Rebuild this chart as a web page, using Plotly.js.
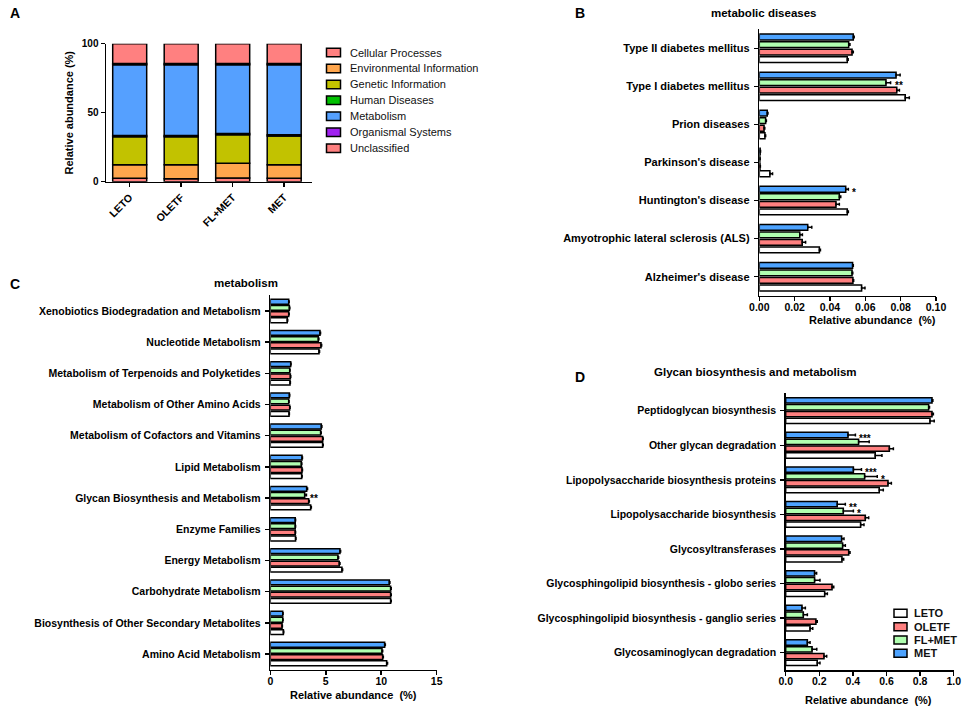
<!DOCTYPE html>
<html>
<head>
<meta charset="utf-8">
<script src="https://cdn.plot.ly/plotly-3.0.1.min.js"></script>
<style>html,body{margin:0;padding:0;background:#fff;}#chart{width:964px;height:708px;}</style>
</head>
<body>
<div id="chart"></div>
<script>
// ---------------- DATA ----------------
const groups = ['LETO', 'OLETF', 'FL+MET', 'MET'];

// Panel A: KEGG level-1 relative abundance (%)
const aCategories = ['LETO', 'OLETF', 'FL+MET', 'MET'];
const aLevels = ['Cellular Processes', 'Environmental Information', 'Genetic Information', 'Human Diseases', 'Metabolism', 'Organismal Systems', 'Unclassified'];
const cellularProcesses = [2.5, 2.2, 2.6, 2.5];
const environmentalInformation = [9.8, 10.1, 10.7, 9.8];
const geneticInformation = [20.3, 20.3, 20.7, 20.8];
const humanDiseases = [0.9, 0.9, 0.9, 0.9];
const metabolismA = [51.3, 51.3, 49.9, 50.8];
const organismalSystems = [0.8, 0.8, 0.8, 0.8];
const unclassified = [14.4, 14.4, 14.4, 14.4];

// Panel B: metabolic diseases
const bCategories = ["Type II diabetes mellitus", "Type I diabetes mellitus", "Prion diseases", "Parkinson's disease", "Huntington's disease", "Amyotrophic lateral sclerosis (ALS)", "Alzheimer's disease"];
const bLETO = [0.0498, 0.0826, 0.0032, 0.0060, 0.0498, 0.0340, 0.0579];
const bOLETF = [0.0525, 0.0778, 0.0027, 0.0004, 0.0434, 0.0243, 0.0530];
const bFLMET = [0.0506, 0.0717, 0.0036, 0.0003, 0.0453, 0.0229, 0.0525];
const bMET = [0.0532, 0.0774, 0.0045, 0.0005, 0.0489, 0.0274, 0.0528];
const bLETOerr = [0.0005, 0.0023, 0.0004, 0.0015, 0.0006, 0.0006, 0.0019];
const bOLETFerr = [0.0007, 0.0015, 0.0004, 0.0002, 0.0019, 0.0019, 0.0004];
const bFLMETerr = [0.0007, 0.0026, 0.0004, 0.0002, 0.0008, 0.0015, 0.0004];
const bMETerr = [0.0005, 0.0023, 0.0004, 0.0002, 0.0015, 0.0023, 0.0004];
const bSig = [["Type I diabetes mellitus", 2, '**'], ["Huntington's disease", 3, '*']];

// Panel C: metabolism
const cCategories = ["Xenobiotics Biodegradation and Metabolism", "Nucleotide Metabolism", "Metabolism of Terpenoids and Polyketides", "Metabolism of Other Amino Acids", "Metabolism of Cofactors and Vitamins", "Lipid Metabolism", "Glycan Biosynthesis and Metabolism", "Enzyme Families", "Energy Metabolism", "Carbohydrate Metabolism", "Biosynthesis of Other Secondary Metabolites", "Amino Acid Metabolism"];
const cLETO = [1.53, 4.39, 1.78, 1.69, 4.72, 2.83, 3.64, 2.28, 6.46, 10.85, 1.18, 10.49];
const cOLETF = [1.66, 4.57, 1.81, 1.75, 4.72, 2.86, 3.46, 2.25, 6.22, 10.85, 1.06, 10.13];
const cFLMET = [1.72, 4.33, 1.75, 1.66, 4.54, 2.80, 3.10, 2.25, 6.10, 10.85, 1.12, 10.07];
const cMET = [1.66, 4.48, 1.84, 1.72, 4.60, 2.86, 3.28, 2.25, 6.28, 10.73, 1.12, 10.31];
const cLETOerr = [0.04, 0.05, 0.03, 0.03, 0.05, 0.04, 0.06, 0.03, 0.06, 0.05, 0.03, 0.08];
const cOLETFerr = [0.04, 0.06, 0.03, 0.03, 0.05, 0.04, 0.06, 0.03, 0.06, 0.05, 0.03, 0.06];
const cFLMETerr = [0.04, 0.05, 0.03, 0.03, 0.05, 0.04, 0.16, 0.03, 0.06, 0.05, 0.03, 0.06];
const cMETerr = [0.04, 0.05, 0.03, 0.03, 0.05, 0.04, 0.08, 0.03, 0.06, 0.05, 0.03, 0.06];
const cSig = [["Glycan Biosynthesis and Metabolism", 2, '**']];

// Panel D: Glycan biosynthesis and metabolism
const dCategories = ["Peptidoglycan biosynthesis", "Other glycan degradation", "Lipopolysaccharide biosynthesis proteins", "Lipopolysaccharide biosynthesis", "Glycosyltransferases", "Glycosphingolipid biosynthesis - globo series", "Glycosphingolipid biosynthesis - ganglio series", "Glycosaminoglycan degradation"];
const dLETO = [0.859, 0.533, 0.557, 0.446, 0.335, 0.232, 0.145, 0.188];
const dOLETF = [0.871, 0.617, 0.609, 0.474, 0.375, 0.276, 0.180, 0.228];
const dFLMET = [0.851, 0.434, 0.470, 0.343, 0.339, 0.172, 0.105, 0.157];
const dMET = [0.871, 0.371, 0.403, 0.307, 0.333, 0.172, 0.097, 0.129];
const dLETOerr = [0.025, 0.040, 0.024, 0.020, 0.010, 0.016, 0.016, 0.016];
const dOLETFerr = [0.008, 0.024, 0.020, 0.020, 0.008, 0.010, 0.008, 0.016];
const dFLMETerr = [0.005, 0.063, 0.075, 0.060, 0.016, 0.032, 0.024, 0.028];
const dMETerr = [0.005, 0.044, 0.048, 0.048, 0.014, 0.012, 0.020, 0.016];
const dSig = [["Other glycan degradation", 3, '***'], ["Lipopolysaccharide biosynthesis proteins", 3, '***'], ["Lipopolysaccharide biosynthesis proteins", 2, '*'], ["Lipopolysaccharide biosynthesis", 3, '**'], ["Lipopolysaccharide biosynthesis", 2, '*']];

// ---------------- STYLE ----------------
const W = 964, H = 708;
const FONT = 'Liberation Sans, Arial, sans-serif';
const aColors = ['#FF8080', '#FFA64D', '#C2C200', '#00C000', '#55A0FF', '#A020F0', '#FF8080'];
const groupColors = ['#FFFFFF', '#FF8080', '#B0FFB0', '#4DA3FF'];
const px = x => x / W;
const py = y => 1 - y / H;

const traces = [];

// Panel A stacked bars (explicit base computed from the data)
const aSeries = [cellularProcesses, environmentalInformation, geneticInformation, humanDiseases, metabolismA, organismalSystems, unclassified];
let cum = aCategories.map(() => 0);
aSeries.forEach((vals, i) => {
  traces.push({
    type: 'bar', x: aCategories, y: vals, base: cum.slice(),
    width: 0.66, offset: -0.33,
    xaxis: 'x', yaxis: 'y', name: aLevels[i], showlegend: false,
    marker: {color: aColors[i], line: {color: '#000', width: 1.5}},
    hoverinfo: 'skip'
  });
  cum = cum.map((c, k) => c + vals[k]);
});

function addGroupTraces(cats, seriesList, errList, ax) {
  seriesList.forEach((vals, g) => {
    traces.push({
      type: 'bar', orientation: 'h', y: cats, x: vals,
      xaxis: 'x' + ax, yaxis: 'y' + ax, name: groups[g], showlegend: false,
      marker: {color: groupColors[g], line: {color: '#000', width: 1.5}},
      error_x: {type: 'data', symmetric: false, array: errList[g], arrayminus: vals.map(() => 0),
                color: '#000', thickness: 1.5, width: 1.5},
      hoverinfo: 'skip'
    });
  });
}
addGroupTraces(bCategories, [bLETO, bOLETF, bFLMET, bMET], [bLETOerr, bOLETFerr, bFLMETerr, bMETerr], 2);
addGroupTraces(cCategories, [cLETO, cOLETF, cFLMET, cMET], [cLETOerr, cOLETFerr, cFLMETerr, cMETerr], 3);
addGroupTraces(dCategories, [dLETO, dOLETF, dFLMET, dMET], [dLETOerr, dOLETFerr, dFLMETerr, dMETerr], 4);

const bargap = 0.21;
const annotations = [];
const shapes = [];
function addSig(sigList, cats, seriesList, errList, ax, spacingPx) {
  const slot = spacingPx * (1 - bargap) / 4;
  sigList.forEach(([cat, g, txt]) => {
    const k = cats.indexOf(cat);
    annotations.push({
      xref: 'x' + ax, yref: 'y' + ax, x: seriesList[g][k] + errList[g][k], y: cat,
      xanchor: 'left', yanchor: 'middle', xshift: 2, yshift: (g - 1.5) * slot - 3,
      text: txt, showarrow: false, font: {family: FONT, size: 10, color: '#000', weight: 'bold'}
    });
  });
}
addSig(bSig, bCategories, [bLETO, bOLETF, bFLMET, bMET], [bLETOerr, bOLETFerr, bFLMETerr, bMETerr], 2, 38.07);
addSig(cSig, cCategories, [cLETO, cOLETF, cFLMET, cMET], [cLETOerr, cOLETFerr, cFLMETerr, cMETerr], 3, 31.18);
addSig(dSig, dCategories, [dLETO, dOLETF, dFLMET, dMET], [dLETOerr, dOLETFerr, dFLMETerr, dMETerr], 4, 34.57);

function paperText(text, x, y, size, weight, xanchor) {
  annotations.push({xref: 'paper', yref: 'paper', x: px(x), y: py(y), xanchor: xanchor || 'center', yanchor: 'middle',
    text: text, showarrow: false, font: {family: FONT, size: size, color: '#000', weight: weight || 'bold'}});
}
paperText('A', 8, 13, 14, 'bold', 'left');
paperText('B', 573, 13, 14, 'bold', 'left');
paperText('C', 8, 284, 14, 'bold', 'left');
paperText('D', 573, 377, 14, 'bold', 'left');
paperText('metabolic diseases', 763, 13, 11.5);
paperText('metabolism', 246, 283, 11.5);
paperText('Glycan biosynthesis and metabolism', 755, 372, 11.5);
paperText('Relative abundance  (%)', 872, 319.5, 11);
paperText('Relative abundance  (%)', 353, 694.5, 11);
paperText('Relative abundance  (%)', 868, 700, 11);

// Legends (compact, as in the reference)
function addLegend(labels, colors, x0, y0, dy, sw, sh, textX, size, weight) {
  labels.forEach((lab, i) => {
    const yc = y0 + i * dy;
    shapes.push({type: 'rect', xref: 'paper', yref: 'paper', x0: px(x0), x1: px(x0 + sw),
      y0: py(yc + sh / 2), y1: py(yc - sh / 2), fillcolor: colors[i], line: {color: '#000', width: 1.5}});
    annotations.push({xref: 'paper', yref: 'paper', x: px(textX), y: py(yc), xanchor: 'left', yanchor: 'middle',
      text: lab, showarrow: false, font: {family: FONT, size: size, color: '#111', weight: weight}});
  });
}
addLegend(aLevels, aColors, 326.5, 52.5, 15.95, 14, 8.5, 348, 11, 'normal');
addLegend(groups, groupColors, 894, 613.3, 13.35, 13, 8, 912, 11, 'bold');

const tickFont = {family: FONT, size: 10.5, color: '#000', weight: 'bold'};
const baseAxis = {showline: true, linecolor: '#000', linewidth: 1.5, showgrid: false, zeroline: false,
  ticks: 'outside', ticklen: 4, tickwidth: 1.5, tickcolor: '#000', tickfont: tickFont, fixedrange: true};

function catAxis(cats, domain, anchor, size) {
  return Object.assign({}, baseAxis, {type: 'category', domain: domain, anchor: anchor,
    categoryorder: 'array', categoryarray: cats.slice().reverse(), range: [-0.5, cats.length - 0.5],
    ticklabelstandoff: 2, tickfont: Object.assign({}, tickFont, {size: size})});
}
function valAxis(domain, anchor, range, dtick, fmt) {
  return Object.assign({}, baseAxis, {domain: domain, anchor: anchor, range: range, dtick: dtick,
    tickformat: fmt, ticklabelstandoff: -3});
}

const layout = {
  width: W, height: H, margin: {l: 0, r: 0, t: 0, b: 0},
  paper_bgcolor: '#fff', plot_bgcolor: 'rgba(0,0,0,0)',
  font: {family: FONT, color: '#000'},
  barmode: 'group', bargap: bargap, bargroupgap: 0.22,
  showlegend: false,
  // Panel A
  xaxis: Object.assign({}, baseAxis, {domain: [px(106), px(312)], anchor: 'y', type: 'category',
    range: [-0.46, 3.54], tickangle: -45, tickfont: Object.assign({}, tickFont, {size: 10.5})}),
  yaxis: Object.assign({}, baseAxis, {domain: [py(181.7), py(43.7)], anchor: 'x', range: [0, 100],
    tickvals: [0, 50, 100], tickfont: Object.assign({}, tickFont, {size: 10}),
    title: {text: 'Relative abundance (%)', font: {family: FONT, size: 11, color: '#000', weight: 'bold'}, standoff: 6}}),
  // Panel B
  xaxis2: valAxis([px(759.3), px(936)], 'y2', [0, 0.1], 0.02, '.2f'),
  yaxis2: catAxis(bCategories, [py(295.7), py(29.3)], 'x2', 11),
  // Panel C
  xaxis3: valAxis([px(270.3), px(436.7)], 'y3', [0, 15], 5, ''),
  yaxis3: catAxis(cCategories, [py(669.6), py(295.4)], 'x3', 10.5),
  // Panel D
  xaxis4: valAxis([px(785.7), px(953.7)], 'y4', [0, 1], 0.2, '.1f'),
  yaxis4: catAxis(dCategories, [py(670), py(393.4)], 'x4', 10.5),
  shapes: shapes,
  annotations: annotations
};

Plotly.newPlot('chart', traces, layout, {displayModeBar: false, staticPlot: true});
</script>
</body>
</html>
